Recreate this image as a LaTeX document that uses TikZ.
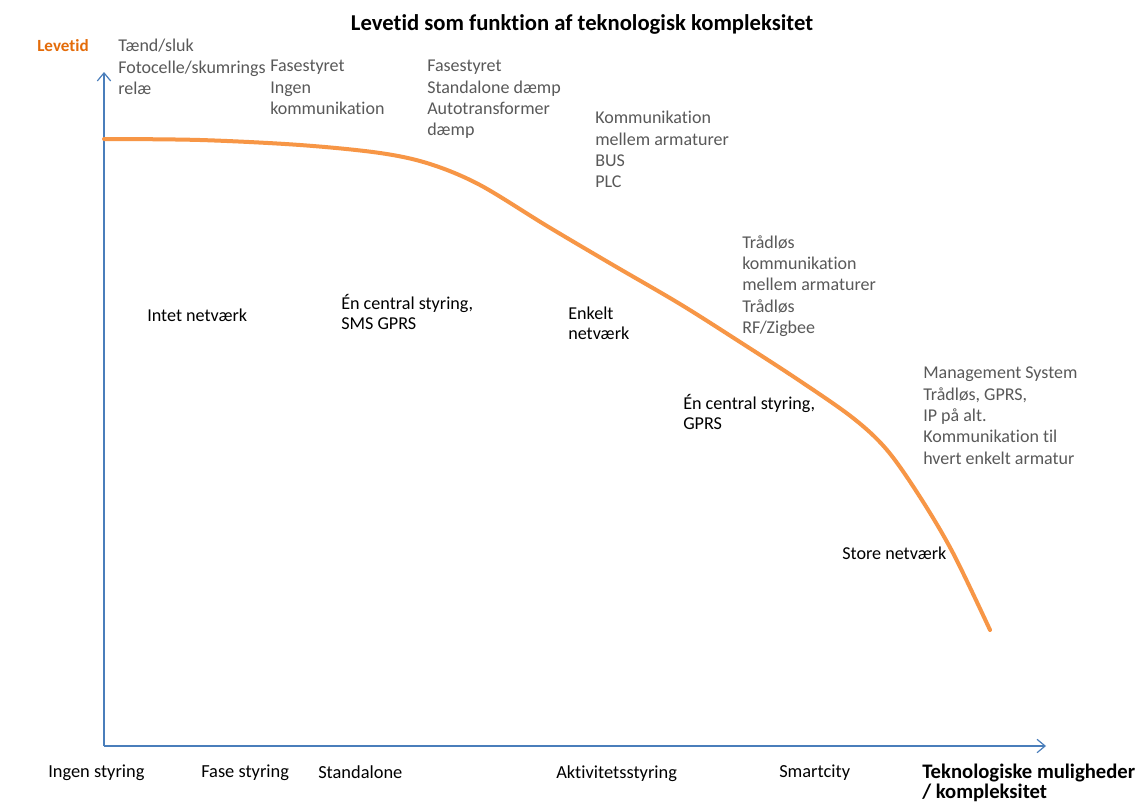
\documentclass[tikz,border=0pt]{standalone}
\usepackage{fontspec}
\setmainfont{Carlito}[Ligatures=NoCommon]
\usetikzlibrary{arrows.meta}
\definecolor{axisblue}{HTML}{4A7EBB}
\definecolor{curveorange}{HTML}{F79646}
\definecolor{labelorange}{HTML}{E46C0A}
\definecolor{notegray}{HTML}{595959}
\begin{document}
\begin{tikzpicture}[x=0.75pt,y=-0.75pt,
  axisline/.style={draw=axisblue,line width=0.9pt,-{Straight Barb[length=6pt,width=10pt,line width=0.9pt]}},
  lifecurve/.style={draw=curveorange,line width=3pt,line cap=round},
  note/.style={anchor=north west,inner sep=0pt,align=left,text=notegray,
    font=\fontsize{13.5}{16}\selectfont},
  level/.style={anchor=north west,inner sep=0pt,align=left,text=black,
    font=\fontsize{13.6}{15}\selectfont},
  ticklabel/.style={anchor=north west,inner sep=0pt,text=black,
    font=\fontsize{13.8}{15}\selectfont}]
\useasboundingbox (0,0) rectangle (1141,803);
\fill[white] (0,0) rectangle (1141,803);

% axes
\coordinate (origin) at (104,746);
\coordinate (ytip) at (104,72);
\coordinate (xtip) at (1046,746);
\draw[axisline] (origin) -- (ytip);
\draw[axisline] (origin) -- (xtip);

% lifetime curve
\draw[lifecurve] plot[smooth,tension=0.55] coordinates {
  (104,139) (200,140) (300,145) (380,153) (430,164) (480,185) (547,226)
  (613,265) (680,304) (740,342) (800,381) (853,418) (887,450) (920,497)
  (953,553) (990,630)};

% title and axis names
\node[anchor=north,inner sep=0pt,font=\fontsize{17}{20}\selectfont\bfseries] (title) at (582,14)
  {Levetid som funktion af teknologisk kompleksitet};
\node[anchor=north west,inner sep=0pt,text=labelorange,font=\fontsize{12.8}{15}\selectfont\bfseries]
  (ylabel) at (37,39) {Levetid};
\node[anchor=north west,inner sep=0pt,align=left,font=\fontsize{15.5}{15}\selectfont\bfseries]
  (xlabel) at (922,764) {Teknologiske muligheder\\/ kompleksitet};

% technology notes
\node[note] (n1) at (118,39) {Tænd/sluk\\Fotocelle/skumrings\\relæ};
\node[note] (n2) at (270,60) {Fasestyret\\Ingen\\kommunikation};
\node[note] (n3) at (427,60) {Fasestyret\\Standalone dæmp\\Autotransformer\\dæmp};
\node[note] (n4) at (595,111) {Kommunikation\\mellem armaturer\\BUS\\PLC};
\node[note] (n5) at (742,235) {Trådløs\\kommunikation\\mellem armaturer\\Trådløs\\RF/Zigbee};
\node[note] (n6) at (923,367) {Management System\\Trådløs, GPRS,\\IP på alt.\\Kommunikation til\\hvert enkelt armatur};

% network levels
\node[level] (l1) at (147,309) {Intet netværk};
\node[level] (l2) at (341,294) {Én central styring,\\SMS GPRS};
\node[level] (l3) at (568,307) {Enkelt\\netværk};
\node[level] (l4) at (683,394) {Én central styring,\\GPRS};
\node[level] (l5) at (842,547) {Store netværk};

% control levels along the x axis
\node[ticklabel] (t1) at (48,765) {Ingen styring};
\node[ticklabel] (t2) at (201,765) {Fase styring};
\node[ticklabel] (t3) at (318,765) {Standalone};
\node[ticklabel] (t4) at (556,765) {Aktivitetsstyring};
\node[ticklabel] (t5) at (779,765) {Smartcity};
\end{tikzpicture}
\end{document}
